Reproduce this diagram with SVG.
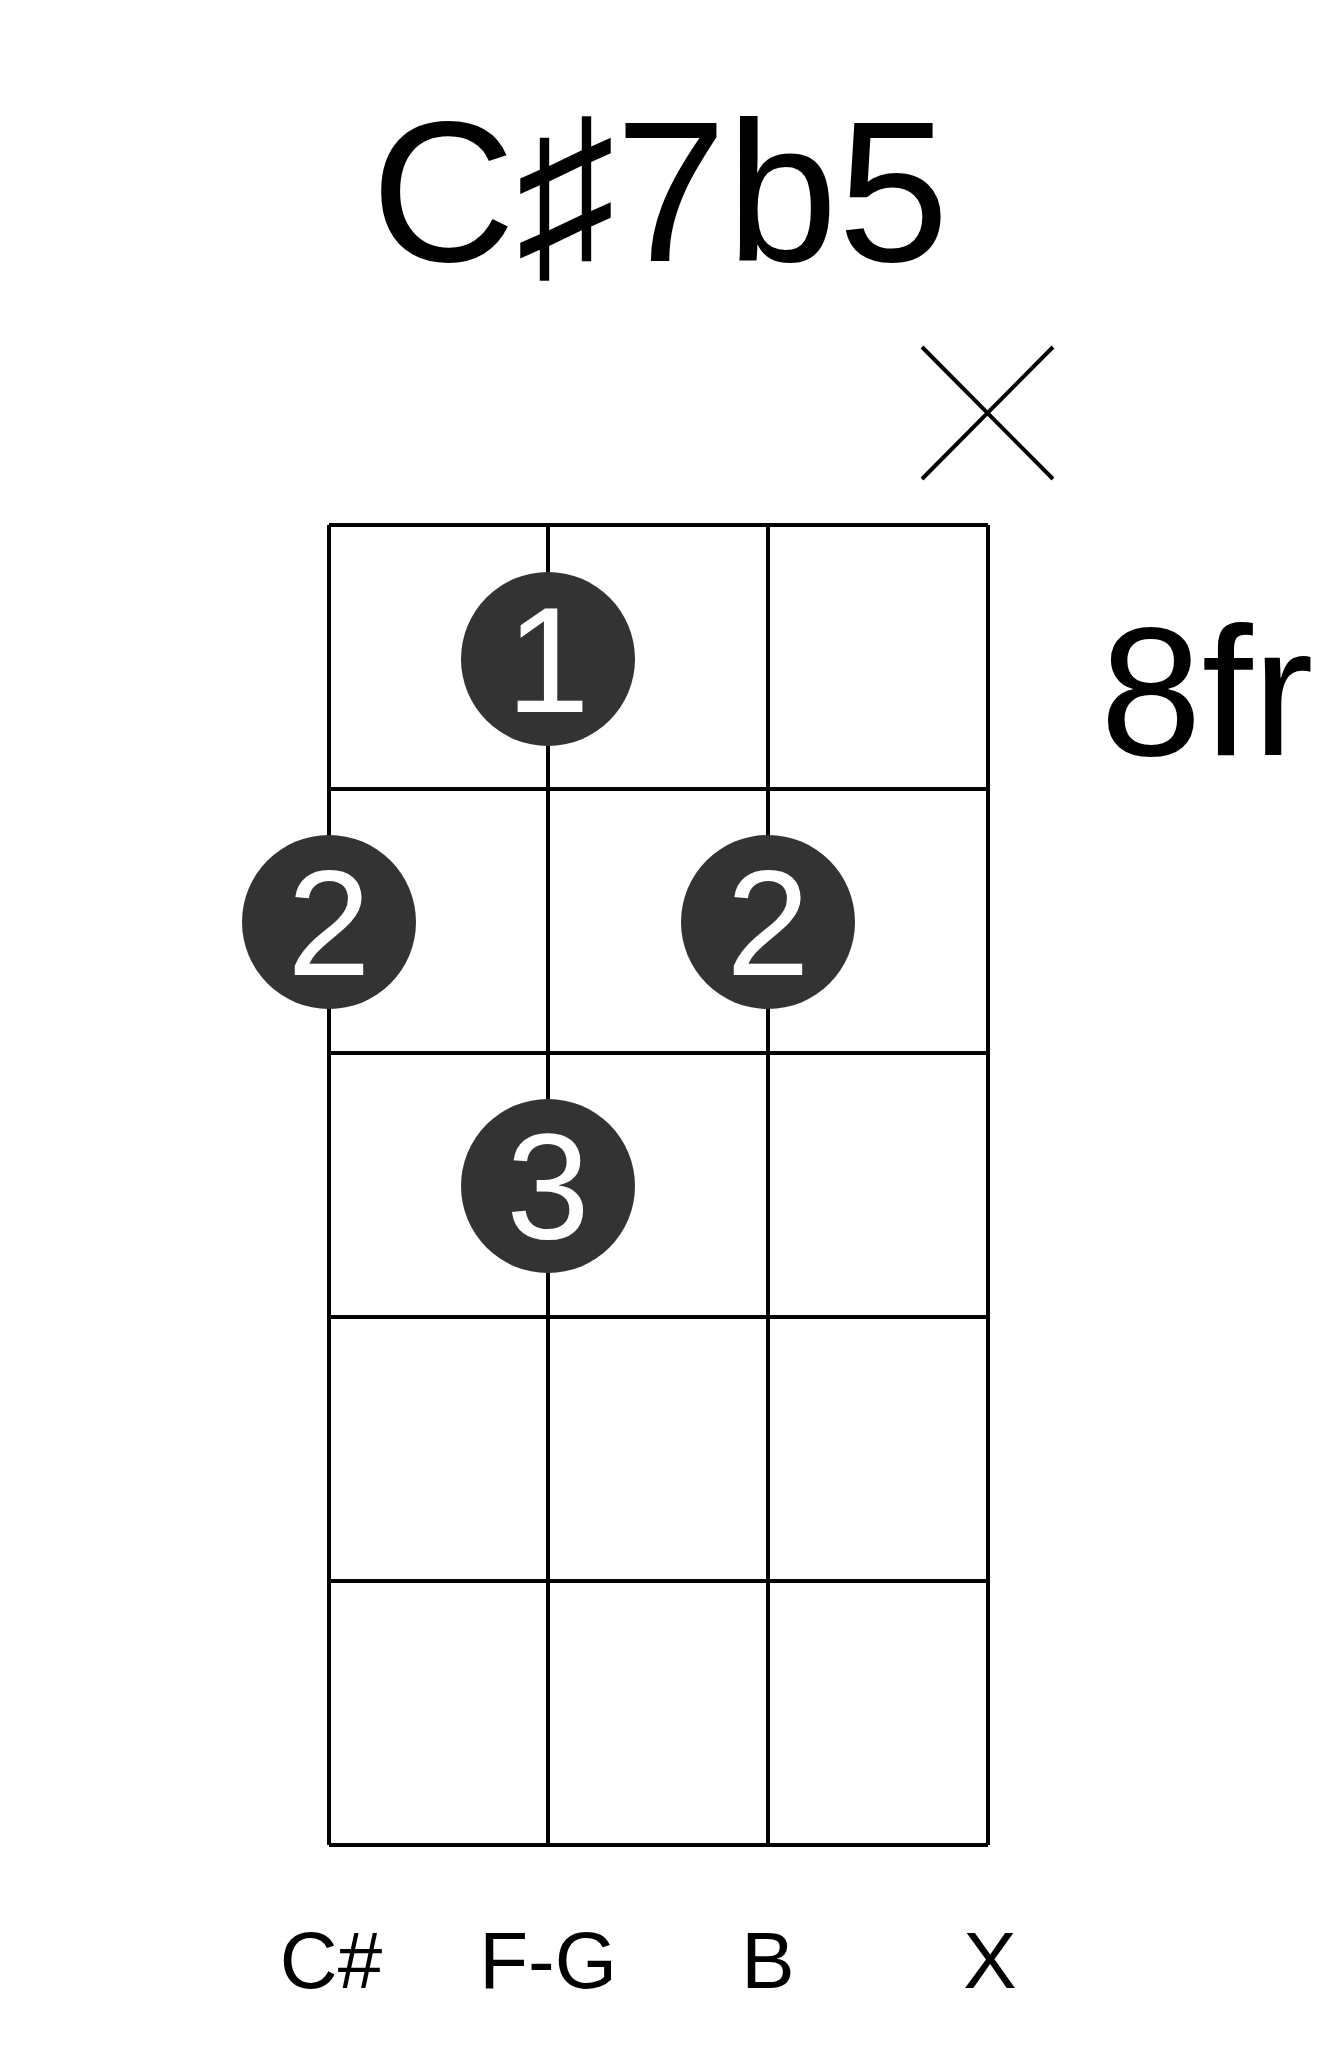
<svg xmlns="http://www.w3.org/2000/svg" width="1317" height="2067" viewBox="0 0 1317 2067">
<style>
.g{stroke:#000;stroke-width:4;fill:none}
.t{font-family:"Liberation Sans",Arial,sans-serif;fill:#000;text-anchor:middle}
.dot{fill:#333}
.fn{font-family:"Liberation Sans",Arial,sans-serif;fill:#fff;text-anchor:middle;font-size:150px}
</style>
<rect width="1317" height="2067" fill="#fff"/>
<g id="title"><text class="t" x="660" y="261" font-size="200">C♯7b5</text></g>
<g id="mute"><path class="g" d="M922 347L1053 479M1053 347L922 479" stroke-width="3"/></g>
<g id="fret-label"><text class="t" x="1100" y="755" font-size="183" style="text-anchor:start">8fr</text></g>
<g id="grid">
<path class="g" d="M329 525H988M329 789H988M329 1053H988M329 1317H988M329 1581H988M329 1845H988M329 525V1845M548 525V1845M768 525V1845M988 525V1845"/>
</g>
<g id="f1"><circle class="dot" cx="548" cy="659" r="87"/><text class="fn" x="548" y="712">1</text></g>
<g id="f2a"><circle class="dot" cx="329" cy="922" r="87"/><text class="fn" x="329" y="975">2</text></g>
<g id="f2b"><circle class="dot" cx="768" cy="922" r="87"/><text class="fn" x="768" y="975">2</text></g>
<g id="f3"><circle class="dot" cx="548" cy="1186" r="87"/><text class="fn" x="548" y="1239">3</text></g>
<g id="labels">
<text class="t" x="331" y="1988" font-size="80">C#</text>
<text class="t" x="548" y="1988" font-size="80">F-G</text>
<text class="t" x="768" y="1988" font-size="80">B</text>
<text class="t" x="990" y="1988" font-size="80">X</text>
</g>
</svg>
